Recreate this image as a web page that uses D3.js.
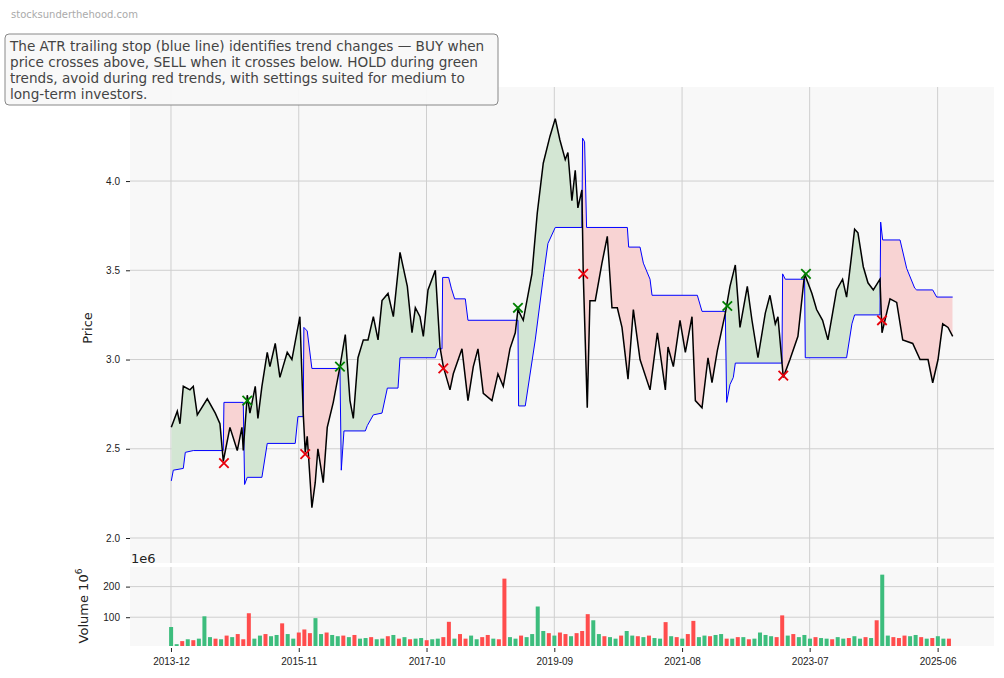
<!DOCTYPE html>
<html>
<head>
<meta charset="utf-8">
<script src="https://cdn.jsdelivr.net/npm/d3@7"></script>
<style>
  body { margin: 0; background: #fff; font-family: "DejaVu Sans", sans-serif; }
  .tick text { font-size: 10px; fill: #222; }
  .tick line { stroke: #222; }
  .domain { display: none; }
</style>
</head>
<body>
<div id="chart"></div>
<script>
// price, decimal year -> close
const price = [
  [2013.92,2.62],[2014.01,2.71],[2014.05,2.64],[2014.10,2.85],[2014.20,2.83],[2014.25,2.85],[2014.31,2.69],
  [2014.46,2.78],[2014.58,2.70],[2014.65,2.64],[2014.70,2.43],[2014.80,2.62],[2014.91,2.49],[2014.98,2.62],
  [2015.00,2.49],[2015.06,2.80],[2015.10,2.70],[2015.18,2.85],[2015.22,2.67],[2015.28,2.85],[2015.36,3.04],
  [2015.40,2.96],[2015.48,3.09],[2015.55,2.90],[2015.66,3.04],[2015.73,3.00],[2015.85,3.24],[2015.90,2.70],
  [2015.93,2.48],[2015.96,2.57],[2016.03,2.17],[2016.08,2.31],[2016.12,2.50],[2016.20,2.31],[2016.26,2.62],
  [2016.35,2.76],[2016.45,2.96],[2016.53,3.14],[2016.60,2.77],[2016.65,2.67],[2016.72,3.01],[2016.80,3.11],
  [2016.87,3.11],[2016.95,3.24],[2017.02,3.11],[2017.08,3.33],[2017.17,3.37],[2017.25,3.24],[2017.35,3.60],
  [2017.46,3.41],[2017.53,3.15],[2017.58,3.29],[2017.65,3.24],[2017.70,3.13],[2017.77,3.39],[2017.88,3.50],
  [2017.95,3.07],[2018.00,2.96],[2018.10,2.83],[2018.15,2.92],[2018.28,3.06],[2018.37,2.77],[2018.45,2.96],
  [2018.52,3.06],[2018.60,2.81],[2018.73,2.77],[2018.82,2.92],[2018.90,2.85],[2019.00,3.06],[2019.08,3.15],
  [2019.12,3.28],[2019.20,3.22],[2019.33,3.48],[2019.41,3.82],[2019.50,4.10],[2019.60,4.25],[2019.68,4.35],
  [2019.75,4.23],[2019.83,4.12],[2019.87,4.16],[2019.93,3.89],[2019.98,4.06],[2020.02,3.85],[2020.08,3.95],
  [2020.10,3.48],[2020.16,2.73],[2020.20,3.33],[2020.28,3.33],[2020.38,3.54],[2020.46,3.69],[2020.53,3.29],
  [2020.61,3.29],[2020.68,3.18],[2020.77,2.89],[2020.85,3.28],[2020.95,3.00],[2021.10,2.83],[2021.21,3.15],
  [2021.33,2.83],[2021.37,3.07],[2021.45,2.96],[2021.55,3.22],[2021.63,3.04],[2021.73,3.24],[2021.78,2.77],
  [2021.88,2.73],[2021.97,3.01],[2022.03,2.87],[2022.11,3.05],[2022.23,3.26],[2022.30,3.41],[2022.38,3.53],
  [2022.45,3.18],[2022.56,3.41],[2022.63,3.22],[2022.72,3.01],[2022.83,3.26],[2022.90,3.36],[2022.98,3.20],
  [2023.02,3.24],[2023.10,2.90],[2023.20,3.00],[2023.32,3.13],[2023.42,3.48],[2023.53,3.37],[2023.60,3.28],
  [2023.69,3.22],[2023.77,3.11],[2023.84,3.26],[2023.90,3.39],[2023.99,3.45],[2024.05,3.35],[2024.13,3.60],
  [2024.17,3.73],[2024.22,3.71],[2024.30,3.52],[2024.37,3.43],[2024.45,3.39],[2024.55,3.45],[2024.58,3.15],
  [2024.70,3.34],[2024.80,3.32],[2024.89,3.11],[2025.04,3.09],[2025.15,3.00],[2025.27,3.00],[2025.34,2.87],
  [2025.42,3.00],[2025.49,3.20],[2025.57,3.18],[2025.64,3.13]
];

// ATR trailing stop
const stop = [
  [2013.92,2.32],[2013.95,2.38],[2014.10,2.39],[2014.13,2.48],[2014.25,2.49],[2014.70,2.49],[2014.71,2.76],
  [2015.00,2.76],[2015.02,2.30],[2015.06,2.34],[2015.28,2.34],[2015.36,2.53],[2015.78,2.53],[2015.82,2.68],
  [2015.90,2.68],[2015.91,3.18],[2015.96,3.16],[2016.03,2.95],[2016.45,2.95],[2016.47,2.38],[2016.51,2.60],
  [2016.83,2.60],[2016.86,2.63],[2016.95,2.69],[2017.08,2.70],[2017.16,2.84],[2017.32,2.84],[2017.35,3.01],
  [2017.88,3.01],[2017.92,3.06],[2017.98,3.06],[2017.99,3.46],[2018.08,3.46],[2018.12,3.40],[2018.17,3.34],
  [2018.33,3.34],[2018.37,3.22],[2019.12,3.22],[2019.13,2.74],[2019.23,2.74],[2019.38,3.11],[2019.50,3.46],
  [2019.57,3.65],[2019.68,3.74],[2020.08,3.74],[2020.09,4.24],[2020.12,4.22],[2020.15,3.74],[2020.76,3.74],
  [2020.78,3.63],[2020.95,3.63],[2021.00,3.54],[2021.10,3.45],[2021.13,3.36],[2021.81,3.36],[2021.88,3.27],
  [2022.23,3.27],[2022.25,2.76],[2022.30,2.86],[2022.35,2.90],[2022.38,2.98],[2023.08,2.98],[2023.09,3.48],
  [2023.13,3.45],[2023.42,3.45],[2023.43,3.01],[2024.05,3.01],[2024.13,3.20],[2024.17,3.25],[2024.55,3.25],
  [2024.56,3.77],[2024.59,3.67],[2024.85,3.67],[2024.95,3.51],[2025.07,3.40],[2025.10,3.39],[2025.34,3.39],
  [2025.40,3.35],[2025.64,3.35]
];

const buySignals = [[2015.06,2.77],[2016.45,2.96],[2019.12,3.29],[2022.26,3.30],[2023.44,3.48]];
const sellSignals = [[2014.71,2.42],[2015.93,2.47],[2018.00,2.95],[2020.10,3.48],[2023.10,2.91],[2024.58,3.22]];

// monthly volume in millions from 2013-12, sign = up(+)/down(-) bar
const volumeStart = 2013.917;
const volume = [
  68, 12, -22, 28, -25, 30, 103, 35, -30, 28, -40, 35,
  -45, -28, -113, 30, 40, -45, 38, 42, -80, 45, 30, -50,
  -60, -48, 97, 45, -50, 42, 38, -40, 35, -42, 30, 32,
  -35, 28, 30, -38, 42, -30, 35, -28, 30, 32, -25, 28,
  30, -35, -85, 30, -45, -30, 40, 28, -35, -42, 30, -28,
  -226, 35, 30, -40, 35, 45, 135, 55, -48, 40, -50, -45,
  38, -48, -55, -110, 90, 45, -38, 35, 30, -40, 55, 40,
  -38, 35, -40, 32, 30, -84, 38, -35, 30, -45, -88, 35,
  40, -38, 42, 45, -30, 30, -35, 35, -28, 30, 50, 42,
  38, -35, -106, 40, -45, 35, 42, 30, -35, 32, 30, -28,
  35, 30, -32, 38, 30, -35, 32, -90, 239, 40, -35, -32,
  -40, 38, 42, -35, 30, -32, 38, 30, -30
];

const xTicks = ["2013-12", "2015-11", "2017-10", "2019-09", "2021-08", "2023-07", "2025-06"];
const priceTicks = [2.0, 2.5, 3.0, 3.5, 4.0];
const volumeTicks = [100, 200];
const note = [
  "The ATR trailing stop (blue line) identifies trend changes \u2014 BUY when",
  "price crosses above, SELL when it crosses below. HOLD during green",
  "trends, avoid during red trends, with settings suited for medium to",
  "long-term investors."
];

function toDate(y) {
  const yr = Math.floor(y);
  const a = Date.UTC(yr, 0, 1), b = Date.UTC(yr + 1, 0, 1);
  return new Date(a + (y - yr) * (b - a));
}

// linear interpolation over [t, v] pairs
function valueAt(arr, t) {
  if (t <= arr[0][0]) return arr[0][1];
  if (t >= arr[arr.length - 1][0]) return arr[arr.length - 1][1];
  const i = d3.bisector(d => d[0]).right(arr, t);
  const a = arr[i - 1], b = arr[i];
  return a[1] + (b[1] - a[1]) * (t - a[0]) / (b[0] - a[0]);
}

const W = 1004, H = 678;
const left = 130, right = 994;
const mainTop = 87, mainBottom = 563;
const volTop = 567, volBottom = 646;

const svg = d3.select("#chart").append("svg")
  .attr("width", W).attr("height", H);

const x = d3.scaleTime()
  .domain([toDate(2013.30), toDate(2026.26)])
  .range([left, right]);
const y = d3.scaleLinear().domain([1.86, 4.527]).range([mainBottom, mainTop]);
const yv = d3.scaleLinear().domain([6, 264]).range([volBottom, volTop]);

const tickDates = xTicks.map(d => d3.timeParse("%Y-%m")(d));

// panels
[[mainTop, mainBottom], [volTop, volBottom]].forEach(([t, b]) => {
  svg.append("rect").attr("x", left).attr("y", t)
    .attr("width", right - left).attr("height", b - t).attr("fill", "#f8f8f8");
});

// grid
const grid = svg.append("g").attr("stroke", "#cfcfcf").attr("stroke-width", 1);
tickDates.forEach(d => {
  grid.append("line").attr("x1", x(d)).attr("x2", x(d)).attr("y1", mainTop).attr("y2", mainBottom);
  grid.append("line").attr("x1", x(d)).attr("x2", x(d)).attr("y1", volTop).attr("y2", volBottom);
});
priceTicks.forEach(v => {
  grid.append("line").attr("x1", left).attr("x2", right).attr("y1", y(v)).attr("y2", y(v));
});
volumeTicks.forEach(v => {
  grid.append("line").attr("x1", left).attr("x2", right).attr("y1", yv(v)).attr("y2", yv(v));
});

// fill between price and stop
const times = Array.from(new Set(price.map(d => d[0]).concat(stop.map(d => d[0])))).sort((a, b) => a - b);
const band = times.map(t => ({ t, p: valueAt(price, t), s: valueAt(stop, t) }));

const defs = svg.append("defs");
defs.append("clipPath").attr("id", "above").append("path")
  .attr("d", d3.area().x(d => x(toDate(d.t))).y0(mainTop).y1(d => y(d.s))(band));
defs.append("clipPath").attr("id", "below").append("path")
  .attr("d", d3.area().x(d => x(toDate(d.t))).y0(mainBottom).y1(d => y(d.s))(band));

const bandArea = d3.area()
  .x(d => x(toDate(d.t)))
  .y0(d => y(d.s))
  .y1(d => y(d.p));

svg.append("path").attr("d", bandArea(band)).attr("fill", "#d3e6d3").attr("clip-path", "url(#above)");
svg.append("path").attr("d", bandArea(band)).attr("fill", "#f8d3d3").attr("clip-path", "url(#below)");

// lines
const line = d3.line().x(d => x(toDate(d[0]))).y(d => y(d[1]));
svg.append("path").attr("d", line(stop)).attr("fill", "none").attr("stroke", "#0000ff").attr("stroke-width", 1);
svg.append("path").attr("d", line(price)).attr("fill", "none").attr("stroke", "#000").attr("stroke-width", 1.5);

// signals
const cross = d3.symbol().type(d3.symbolX).size(60);
function drawSignals(data, color) {
  svg.append("g").selectAll("path").data(data).enter().append("path")
    .attr("d", cross)
    .attr("transform", d => `translate(${x(toDate(d[0]))},${y(d[1])})`)
    .attr("fill", "none").attr("stroke", color).attr("stroke-width", 1.8);
}
drawSignals(buySignals, "#008000");
drawSignals(sellSignals, "#e8000b");

// volume bars
svg.append("g").selectAll("rect").data(volume).enter().append("rect")
  .attr("x", (d, i) => x(toDate(volumeStart + i / 12)) - 2)
  .attr("width", 4)
  .attr("y", d => yv(Math.abs(d)))
  .attr("height", d => volBottom - yv(Math.abs(d)))
  .attr("fill", d => d > 0 ? "#3dbd7d" : "#ff4d4d");

// axes
svg.append("g").attr("transform", `translate(${left},0)`)
  .call(d3.axisLeft(y).tickValues(priceTicks).tickFormat(d3.format(".1f")).tickSize(4).tickPadding(6));
svg.append("g").attr("transform", `translate(${left},0)`)
  .call(d3.axisLeft(yv).tickValues(volumeTicks).tickSize(4).tickPadding(6));
svg.append("g").attr("transform", `translate(0,${volBottom + 2})`)
  .call(d3.axisBottom(x).tickValues(tickDates).tickFormat(d3.timeFormat("%Y-%m")).tickSize(4).tickPadding(6));

// labels
svg.append("text").attr("transform", "translate(92,328) rotate(-90)")
  .attr("text-anchor", "middle").attr("font-size", 13).attr("fill", "#222").text("Price");
const vl = svg.append("text").attr("transform", "translate(88,606) rotate(-90)")
  .attr("text-anchor", "middle").attr("font-size", 13).attr("fill", "#222");
vl.append("tspan").text("Volume  10");
vl.append("tspan").attr("font-size", 9).attr("dy", -6).text("6");
svg.append("text").attr("x", 131).attr("y", 563).attr("font-size", 13).attr("fill", "#222").text("1e6");

svg.append("text").attr("x", 11).attr("y", 18).attr("font-size", 10).attr("fill", "#aaa").text("stocksunderthehood.com");

svg.append("rect").attr("x", 5).attr("y", 34).attr("width", 493).attr("height", 71)
  .attr("rx", 4).attr("fill", "#f8f8f8").attr("fill-opacity", 0.95).attr("stroke", "#888").attr("stroke-width", 1);
svg.append("g").selectAll("text").data(note).enter().append("text")
  .attr("x", 10).attr("y", (d, i) => 51 + i * 16)
  .attr("font-size", 13.6).attr("fill", "#444").text(d => d);
</script>
</body>
</html>
